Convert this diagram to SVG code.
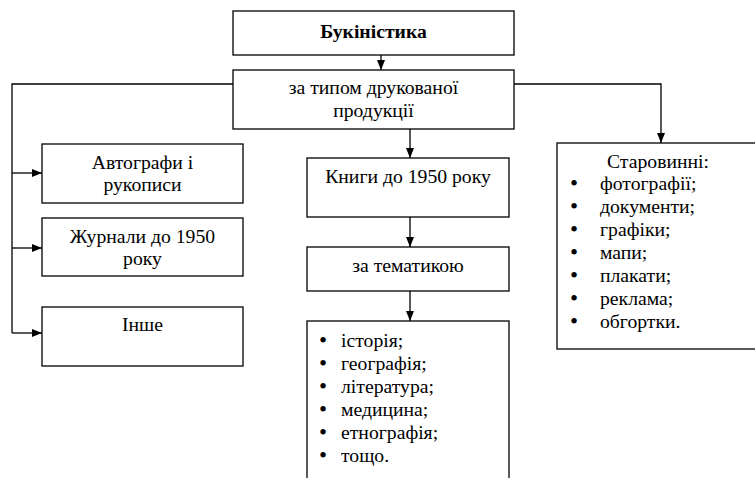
<svg xmlns="http://www.w3.org/2000/svg" width="755" height="478" viewBox="0 0 755 478">
<style>
.box{fill:#fff;stroke:#000;stroke-width:1.3}
text{font-family:"Liberation Serif","Times New Roman",Times,serif;font-size:19.7px;fill:#000}
.c{text-anchor:middle}
.b{font-weight:bold}
.u{font-size:23px}
.ln{fill:none;stroke:#000;stroke-width:1.3}
</style>
<defs>
<marker id="ah" markerUnits="userSpaceOnUse" markerWidth="10" markerHeight="10" viewBox="0 0 10 10" refX="10" refY="5" orient="auto">
<path d="M0,1 L10,5 L0,9 Z" fill="#000"/>
</marker>
</defs>
<rect width="755" height="478" fill="#fff"/>
<g id="connectors">
<line class="ln" x1="381" y1="55" x2="381" y2="70" marker-end="url(#ah)"/>
<polyline class="ln" points="233,84 12,84 12,333"/>
<line class="ln" x1="12" y1="173" x2="42" y2="173" marker-end="url(#ah)"/>
<line class="ln" x1="12" y1="248" x2="42" y2="248" marker-end="url(#ah)"/>
<line class="ln" x1="12" y1="333" x2="42" y2="333" marker-end="url(#ah)"/>
<polyline class="ln" points="514,84 661,84 661,143" marker-end="url(#ah)"/>
<line class="ln" x1="410" y1="129" x2="410" y2="158" marker-end="url(#ah)"/>
<line class="ln" x1="410" y1="217" x2="410" y2="247" marker-end="url(#ah)"/>
<line class="ln" x1="410" y1="291" x2="410" y2="321" marker-end="url(#ah)"/>
</g>
<g id="n-bukinistyka">
<rect class="box" x="233" y="11" width="281" height="44"/>
<text class="c b" x="373.5" y="38">Букіністика</text>
</g>
<g id="n-type">
<rect class="box" x="233" y="70" width="281" height="59"/>
<text class="c" x="373.5" y="94">за типом друкованої</text>
<text class="c" x="373.5" y="117">продукції</text>
</g>
<g id="n-autographs">
<rect class="box" x="42" y="144" width="201" height="59"/>
<text class="c" x="142.5" y="169">Автографи і</text>
<text class="c" x="142.5" y="191">рукописи</text>
</g>
<g id="n-journals">
<rect class="box" x="42" y="218" width="201" height="58"/>
<text class="c" x="142.5" y="243">Журнали до 1950</text>
<text class="c" x="142.5" y="265">року</text>
</g>
<g id="n-other">
<rect class="box" x="42" y="307" width="201" height="59"/>
<text class="c" x="142.5" y="331">Інше</text>
</g>
<g id="n-books">
<rect class="box" x="307" y="158" width="202" height="59"/>
<text class="c" x="408" y="183">Книги до 1950 року</text>
</g>
<g id="n-theme">
<rect class="box" x="307" y="247" width="202" height="44"/>
<text class="c" x="408" y="272">за тематикою</text>
</g>
<g id="n-topics">
<rect class="box" x="307" y="321" width="202" height="165"/>
<text class="u" x="319" y="348">•</text><text x="341" y="347">історія;</text>
<text class="u" x="319" y="371">•</text><text x="341" y="370">географія;</text>
<text class="u" x="319" y="394">•</text><text x="341" y="393">література;</text>
<text class="u" x="319" y="417">•</text><text x="341" y="416">медицина;</text>
<text class="u" x="319" y="440">•</text><text x="341" y="439">етнографія;</text>
<text class="u" x="319" y="463">•</text><text x="341" y="462">тощо.</text>
</g>
<g id="n-old">
<rect class="box" x="557" y="143" width="205" height="206"/>
<text x="607" y="168">Старовинні:</text>
<text class="u" x="570" y="191">•</text><text x="600" y="190">фотографії;</text>
<text class="u" x="570" y="214">•</text><text x="600" y="213">документи;</text>
<text class="u" x="570" y="237">•</text><text x="600" y="236">графіки;</text>
<text class="u" x="570" y="260">•</text><text x="600" y="259">мапи;</text>
<text class="u" x="570" y="283">•</text><text x="600" y="282">плакати;</text>
<text class="u" x="570" y="306">•</text><text x="600" y="305">реклама;</text>
<text class="u" x="570" y="329">•</text><text x="600" y="328">обгортки.</text>
</g>
</svg>
